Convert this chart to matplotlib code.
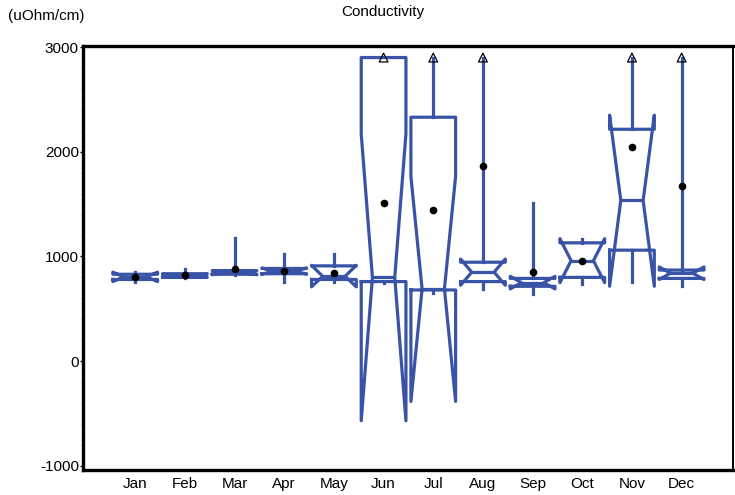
import matplotlib
matplotlib.use("Agg")
import matplotlib.pyplot as plt
from matplotlib.ticker import MultipleLocator

plt.rcParams['font.family'] = ['Liberation Sans', 'DejaVu Sans']

months = ['Jan', 'Feb', 'Mar', 'Apr', 'May', 'Jun', 'Jul', 'Aug', 'Sep', 'Oct', 'Nov', 'Dec']
whislo = [760, 790, 820, 760, 760, 750, 650, 690, 640, 740, 760, 720]
q1 = [780, 800, 830, 835, 780, 760, 680, 760, 715, 800, 1060, 790]
med = [805, 815, 845, 860, 810, 800, 690, 850, 750, 960, 1535, 840]
q3 = [830, 835, 865, 885, 910, 2900, 2330, 945, 790, 1130, 2215, 870]
whishi = [850, 880, 1180, 1020, 1020, 2900, 2900, 2900, 1510, 1170, 2900, 2900]
cilo = [760, 800, 825, 830, 710, -570, -385, 725, 690, 750, 715, 780]
cihi = [850, 830, 865, 890, 915, 2170, 1765, 975, 810, 1170, 2350, 900]
means = [805, 820, 880, 860, 840, 1510, 1445, 1860, 855, 960, 2050, 1675]
# months with values beyond the plotted range (triangle markers)
offscale = [0, 0, 0, 0, 0, 1, 1, 1, 0, 0, 1, 1]
offscale_value = 2900

blue = '#3953a6'

stats = []
for i in range(len(months)):
    stats.append(dict(label=months[i], whislo=whislo[i], q1=q1[i], med=med[i], q3=q3[i],
                      whishi=whishi[i], cilo=cilo[i], cihi=cihi[i], mean=means[i], fliers=[]))

positions = list(range(1, len(months) + 1))

fig = plt.figure(figsize=(7.35, 4.95), dpi=100)
ax = fig.add_axes([0.113, 0.0505, 0.884, 0.8565])

lp = dict(color=blue, linewidth=2.3)
ax.bxp(stats, positions=positions, widths=0.9, shownotches=True, showcaps=False, showfliers=False,
       showmeans=True, boxprops=lp, whiskerprops=lp, medianprops=lp,
       meanprops=dict(marker='o', markerfacecolor='black', markeredgecolor='black', markersize=4.5))

tx = [p for p, f in zip(positions, offscale) if f]
ax.scatter(tx, [offscale_value] * len(tx), marker='^', s=40, facecolors='none',
           edgecolors='black', linewidths=0.9, zorder=5)

ax.set_xlim(-0.05, 13.03)
ax.set_ylim(-1040, 3010)
ax.set_yticks([-1000, 0, 1000, 2000, 3000])
ax.set_yticklabels(['-1000', '0', '1000', '2000', '3000'])
ax.yaxis.set_minor_locator(MultipleLocator(200))
ax.set_xticks(positions)
ax.set_xticklabels(months)
ax.tick_params(axis='x', length=0, labelsize=11, pad=5)
ax.tick_params(axis='y', which='major', length=2, width=1, labelsize=11, pad=1)
ax.tick_params(axis='y', which='minor', length=1.5, width=0.6, color='#888888')

for side in ['left', 'bottom', 'top']:
    ax.spines[side].set_linewidth(2.4)
ax.spines['right'].set_linewidth(1.4)

fig.text(383 / 735, 1 - 12 / 495, 'Conductivity', ha='center', va='center', fontsize=11)
fig.text(8 / 735, 1 - 16 / 495, '(uOhm/cm)', ha='left', va='center', fontsize=11)

fig.savefig('out.png', dpi=100)
